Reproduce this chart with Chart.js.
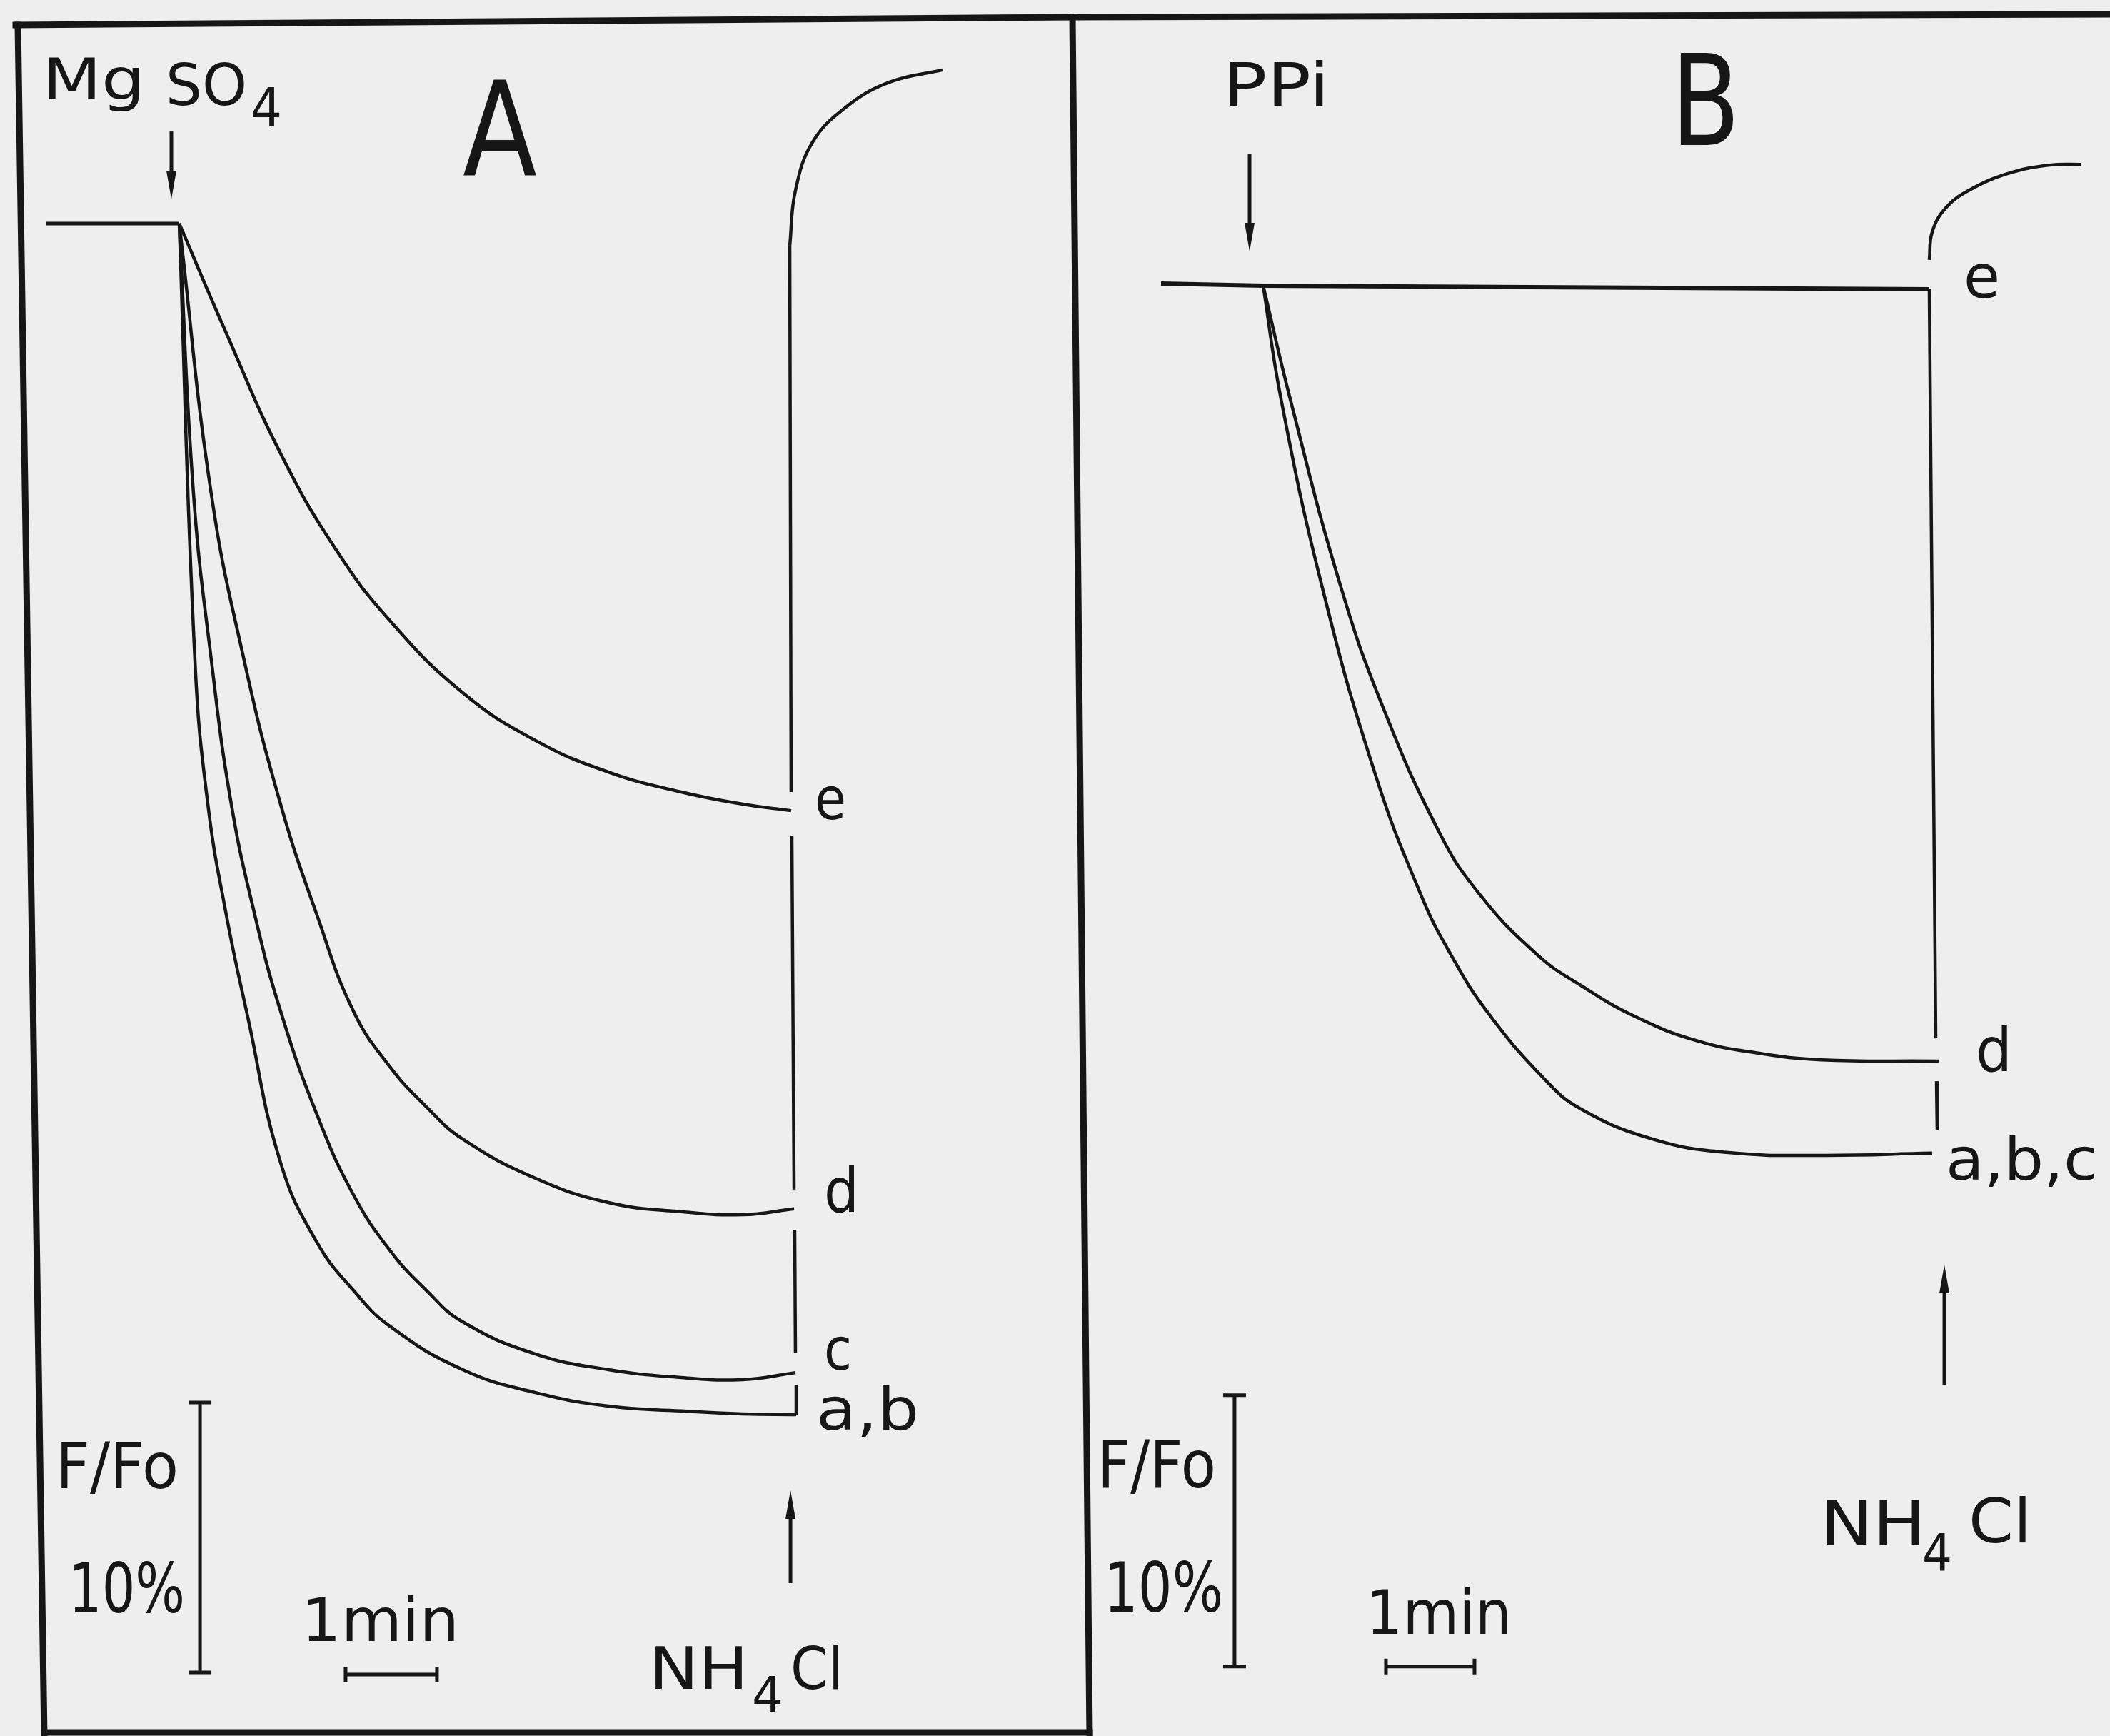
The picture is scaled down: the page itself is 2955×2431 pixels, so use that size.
<!DOCTYPE html>
<html>
<head>
<meta charset="utf-8">
<script src="https://cdn.jsdelivr.net/npm/chart.js@4.4.1/dist/chart.umd.min.js"></script>
<style>
  html, body { margin: 0; padding: 0; background: #eeeeee; }
  #wrap { width: 2955px; height: 2431px; }
</style>
</head>
<body>
<div id="wrap"><canvas id="fig" width="2955" height="2431"></canvas></div>
<script>
// -----------------------------
// DATA (time in min after addition, F/Fo in %)
// -----------------------------

// Panel A: MgSO4
const aBaseT = [-1.461, 0];
const aBaseF = [100, 100];

const aT_e = [0, 0.516, 1.109, 1.711, 2.305, 3.102, 3.898, 4.695, 5.492, 6.164, 6.695];
const aF_e = [100, 95.93, 91.48, 87.94, 85.29, 82.62, 80.85, 79.68, 78.94, 78.49, 78.25];

const aT_d = [0, 0.350, 0.711, 1.109, 1.508, 1.906, 2.305, 2.703, 3.102, 3.898, 4.695, 5.492, 6.164, 6.727];
const aF_d = [100, 90.00, 83.81, 78.49, 74.37, 70.82, 68.76, 67.28, 66.08, 64.63, 63.73, 63.39, 63.28, 63.50];

const aT_c = [0, 0.156, 0.352, 0.570, 0.828, 1.109, 1.508, 1.906, 2.305, 2.703, 3.102, 3.898, 4.695, 5.492, 6.164, 6.742];
const aF_c = [100, 90.00, 83.81, 78.49, 74.37, 70.82, 66.98, 64.02, 61.96, 60.48, 59.31, 58.12, 57.54, 57.25, 57.17, 57.43];

const aT_ab = [0, 0.172, 0.313, 0.516, 0.750, 1.109, 1.508, 1.906, 2.305, 3.102, 3.898, 4.695, 5.492, 6.164, 6.750];
const aF_ab = [100, 83.81, 78.49, 74.37, 70.60, 65.21, 62.25, 60.48, 59.15, 57.54, 56.69, 56.19, 56.01, 55.90, 55.87];

// NH4Cl trace in A: vertical rise (broken at the labels) then the recovery arc
const aRiseT = [6.680, 6.695, 6.695, 6.703, 6.727, 6.727, 6.734, 6.742, 6.742, 6.750, 6.750];
const aRiseF = [99.18, 78.94, null, 77.33, 64.21, null, 62.72, 58.17, null, 56.98, 55.87];
const aArcT = [6.680, 6.740, 6.930, 7.305, 7.773, 8.352];
const aArcF = [99.18, 101.19, 103.02, 104.34, 105.24, 105.69];

// Panel B: PPi
const bBaseT = [-1.153, 0, 7.524];
const bBaseF = [100.08, 100, 99.87];

const bT_d = [0, 0.306, 0.871, 1.355, 1.984, 2.435, 3.097, 3.589, 4.210, 4.911, 5.605, 6.306, 7.629];
const bF_d = [100, 95.82, 88.97, 84.45, 79.89, 77.61, 75.34, 74.21, 73.05, 72.16, 71.71, 71.47, 71.42];

const bT_abc = [0, 0.202, 0.661, 1.250, 1.774, 2.121, 2.540, 3.169, 3.589, 4.419, 5.258, 6.306, 7.556];
const bF_abc = [100, 95.82, 88.97, 82.16, 77.61, 75.34, 73.20, 70.79, 69.66, 68.53, 68.05, 67.95, 68.03];

const bDropT = [7.524, 7.597, 7.597, 7.605, 7.613];
const bDropF = [99.87, 72.26, null, 70.68, 68.87];
const bArcT = [7.524, 7.556, 7.710, 8.008, 8.460, 8.903, 9.242];
const bArcF = [100.95, 101.97, 102.87, 103.58, 104.18, 104.45, 104.47];

// -----------------------------
// LOOK
// -----------------------------
const W = 2955, H = 2431;
const INK = "#161616";
const PAPER = "#eeeeee";
const FONT = '"DejaVu Sans", sans-serif';

// axis ranges chosen so both panels sit where they do on the page
const AXES = {
    xA: { min: -1.9609, max: -1.9609 + W / 128 },
    yA: { min: 108.280 - H / 37.8, max: 108.280 },
    xB: { min: -14.266, max: -14.266 + W / 124 },
    yB: { min: 110.526 - H / 38.0, max: 110.526 }
};

// text: [string, panel, t, F, font px, width px]
const notes = [
    ["Mg", "A", -1.500, 104.6, 80, 144],
    ["SO", "A", -0.148, 104.4, 80, 114],
    ["4", "A", 0.781, 103.6, 74, 44],
    ["A", "A", 3.102, 101.80, 184, 104],
    ["e", "A", 6.953, 77.94, 82, 44],
    ["d", "A", 7.055, 63.39, 86, 49],
    ["c", "A", 7.055, 57.54, 82, 39],
    ["a,b", "A", 6.969, 55.32, 82, 144],
    ["NH", "A", 5.141, 45.71, 82, 139],
    ["4", "A", 6.266, 44.84, 70, 44],
    ["Cl", "A", 6.688, 45.71, 82, 74],
    ["F/Fo", "A", -1.352, 53.15, 89, 172],
    ["10%", "A", -1.211, 48.54, 96, 163],
    ["1min", "A", 1.336, 47.49, 84, 221],

    ["PPi", "B", -0.452, 106.61, 86, 149],
    ["B", "B", 4.605, 105.18, 176, 97],
    ["e", "B", 7.911, 99.55, 85, 51],
    ["d", "B", 8.048, 71.05, 86, 51],
    ["a,b,c", "B", 7.710, 67.05, 82, 213],
    ["F/Fo", "B", -1.871, 55.71, 92, 166],
    ["10%", "B", -1.798, 51.13, 96, 167],
    ["1min", "B", 1.161, 50.32, 86, 204],
    ["NH", "B", 6.290, 53.61, 86, 148],
    ["4", "B", 7.444, 52.66, 72, 42],
    ["Cl", "B", 7.968, 53.68, 86, 88]
];

// arrows: [panel, t, F tail, F tip]
const arrows = [
    ["A", -0.086, 103.41, 100.90],
    ["B", -0.153, 104.84, 101.26],
    ["A", 6.688, 49.63, 53.07],
    ["B", 7.694, 59.50, 63.92]
];

// scale bars: 10 % F/Fo and 1 min
const fBars = [["A", 0.227, 56.32, 46.32], ["B", -0.323, 59.11, 49.11]];
const tBars = [["A", 1.820, 2.820, 46.24], ["B", 1.387, 2.387, 49.11]];

// frame of the printed figure, page pixels
const frame = [
    [[22, 35], [1502, 24], [2955, 20]],
    [[25, 35], [62, 2431]],
    [[1502, 24], [1526, 2431]],
    [[62, 2426], [1526, 2426]]
];

// -----------------------------
// HELPERS
// -----------------------------
function trace(ts, fs, panel, opts) {
    return Object.assign({
        data: ts.map((t, i) => ({ x: t, y: fs[i] })),
        xAxisID: "x" + panel,
        yAxisID: "y" + panel,
        borderColor: INK,
        borderWidth: 4.5,
        pointRadius: 0,
        fill: false,
        spanGaps: false,
        tension: 0
    }, opts || {});
}

// the drawn decay curves are smooth pen traces
const smooth = { tension: 0.45 };

function px(chart, panel, t, f) {
    return [chart.scales["x" + panel].getPixelForValue(t), chart.scales["y" + panel].getPixelForValue(f)];
}

function putText(ctx, str, x, y, size, width) {
    ctx.save();
    ctx.font = size + "px " + FONT;
    const m = ctx.measureText(str).width;
    ctx.translate(x, y);
    ctx.scale(width / m, 1);
    ctx.fillText(str, 0, 0);
    ctx.restore();
}

const decor = {
    id: "decor",
    beforeDraw(chart) {
        const ctx = chart.ctx;
        ctx.save();
        ctx.fillStyle = PAPER;
        ctx.fillRect(0, 0, W, H);
        ctx.strokeStyle = INK;
        ctx.lineWidth = 9;
        ctx.lineCap = "square";
        frame.forEach(pts => {
            ctx.beginPath();
            pts.forEach((p, i) => i ? ctx.lineTo(p[0], p[1]) : ctx.moveTo(p[0], p[1]));
            ctx.stroke();
        });
        ctx.restore();
    },
    afterDatasetsDraw(chart) {
        const ctx = chart.ctx;
        ctx.save();
        ctx.strokeStyle = INK;
        ctx.fillStyle = INK;
        ctx.lineWidth = 5;
        ctx.lineCap = "butt";

        fBars.forEach(([p, t, f1, f2]) => {
            const [x, y1] = px(chart, p, t, f1);
            const y2 = px(chart, p, t, f2)[1];
            ctx.beginPath();
            ctx.moveTo(x, y1); ctx.lineTo(x, y2);
            ctx.moveTo(x - 16, y1); ctx.lineTo(x + 16, y1);
            ctx.moveTo(x - 16, y2); ctx.lineTo(x + 16, y2);
            ctx.stroke();
        });

        tBars.forEach(([p, t1, t2, f]) => {
            const [x1, y] = px(chart, p, t1, f);
            const x2 = px(chart, p, t2, f)[0];
            ctx.beginPath();
            ctx.moveTo(x1, y); ctx.lineTo(x2, y);
            ctx.moveTo(x1, y - 11); ctx.lineTo(x1, y + 11);
            ctx.moveTo(x2, y - 11); ctx.lineTo(x2, y + 11);
            ctx.stroke();
        });

        arrows.forEach(([p, t, fTail, fTip]) => {
            const [x, yTail] = px(chart, p, t, fTail);
            const yTip = px(chart, p, t, fTip)[1];
            const dir = Math.sign(yTip - yTail);
            const head = 40;
            ctx.beginPath();
            ctx.moveTo(x, yTail); ctx.lineTo(x, yTip - dir * head);
            ctx.stroke();
            ctx.beginPath();
            ctx.moveTo(x, yTip);
            ctx.lineTo(x - 7, yTip - dir * head);
            ctx.lineTo(x + 7, yTip - dir * head);
            ctx.closePath();
            ctx.fill();
        });

        ctx.textBaseline = "alphabetic";
        ctx.textAlign = "left";
        notes.forEach(([str, p, t, f, size, width]) => {
            const [x, y] = px(chart, p, t, f);
            putText(ctx, str, x, y, size, width);
        });
        ctx.restore();
    }
};

// -----------------------------
// CHART
// -----------------------------
const scales = {};
Object.keys(AXES).forEach(id => {
    scales[id] = {
        type: "linear",
        axis: id[0],
        position: id[0] === "x" ? "bottom" : "left",
        display: false,
        min: AXES[id].min,
        max: AXES[id].max
    };
});

new Chart(document.getElementById("fig").getContext("2d"), {
    type: "line",
    data: {
        datasets: [
            trace(aBaseT, aBaseF, "A", { borderWidth: 5 }),
            trace(aT_e, aF_e, "A", smooth),
            trace(aT_d, aF_d, "A", smooth),
            trace(aT_c, aF_c, "A", smooth),
            trace(aT_ab, aF_ab, "A", smooth),
            trace(aRiseT, aRiseF, "A"),
            trace(aArcT, aArcF, "A", { tension: 0.4 }),

            trace(bBaseT, bBaseF, "B", { borderWidth: 6 }),
            trace(bT_d, bF_d, "B", smooth),
            trace(bT_abc, bF_abc, "B", smooth),
            trace(bDropT, bDropF, "B"),
            trace(bArcT, bArcF, "B", { tension: 0.4 })
        ]
    },
    options: {
        responsive: false,
        animation: false,
        devicePixelRatio: 1,
        layout: { padding: 0 },
        plugins: {
            legend: { display: false },
            tooltip: { enabled: false }
        },
        scales
    },
    plugins: [decor]
});
</script>
</body>
</html>
